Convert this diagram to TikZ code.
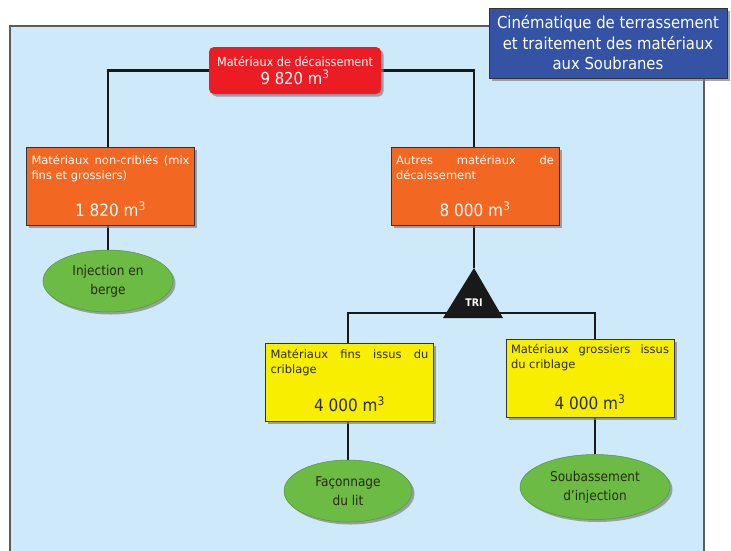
\documentclass[tikz,border=0pt]{standalone}
\usepackage{fontspec}
\setmainfont{DejaVu Sans Condensed}
\newfontfamily\widefont{DejaVu Sans}
\usetikzlibrary{shapes.geometric,shadows,backgrounds}
\definecolor{panelblue}{HTML}{CDE9FA}
\definecolor{redc}{HTML}{EC1C24}
\definecolor{orangec}{HTML}{F26722}
\definecolor{yellowc}{HTML}{F7EE00}
\definecolor{greenc}{HTML}{6BBB45}
\definecolor{titlec}{HTML}{3453A4}
\definecolor{edgec}{HTML}{333333}
\definecolor{darktext}{HTML}{2B2B10}
\tikzset{
  shad/.style={drop shadow={shadow xshift=2.5pt,shadow yshift=-2.5pt,fill=black!50,opacity=0.7}},
  conn/.style={line width=2.8pt,black!90},
  redbox/.style={shad,fill=redc,rounded corners=5pt,minimum width=172pt,minimum height=47pt,
    text=white,align=center,inner sep=2pt},
  obox/.style={shad,fill=orangec,draw=edgec,line width=0.8pt,minimum width=168pt,minimum height=78pt},
  ybox/.style={shad,fill=yellowc,draw=edgec,line width=0.8pt,minimum width=168pt,minimum height=78pt},
  smalltext/.style={text width=158pt,align=justify,inner sep=0pt,font=\widefont\fontsize{11.5}{15}\selectfont},
  bignum/.style={font=\fontsize{17}{18}\selectfont,inner sep=0pt},
  gell/.style={shad,ellipse,fill=greenc,draw=greenc!80!black,line width=0.5pt,text=darktext,align=center,
    font=\fontsize{13.5}{19}\selectfont,inner sep=0pt},
  titlebox/.style={shad,fill=titlec,draw=edgec,line width=0.8pt,minimum width=238pt,minimum height=70pt,
    text=white,align=center,font=\fontsize{16.5}{20.5}\selectfont},
}
\begin{document}
\begin{tikzpicture}[x=1pt,y=-1pt]
\useasboundingbox (0,0) rectangle (731,550);

% nodes
\node[redbox] (red) at (295,70.5) {{\fontsize{12.5}{14}\selectfont Matériaux de décaissement}\\[2pt]{\fontsize{16.5}{18}\selectfont 9 820 m\textsuperscript{3}}};

\node[obox] (o1) at (110.5,186) {};
\node[smalltext,text=white,anchor=north] (o1t) at ([yshift=-8pt]o1.north) {Matériaux non-criblés (mix\linebreak fins et grossiers)};
\node[bignum,text=white] (o1n) at ([yshift=16pt]o1.south) {1 820 m\textsuperscript{3}};

\node[obox] (o2) at (475,186) {};
\node[smalltext,text=white,anchor=north] (o2t) at ([yshift=-8pt]o2.north) {Autres matériaux de\linebreak décaissement};
\node[bignum,text=white] (o2n) at ([yshift=16pt]o2.south) {8 000 m\textsuperscript{3}};

\node[gell,minimum width=130pt,minimum height=62pt] (e1) at (108,281) {Injection en\\berge};

\coordinate (triapex) at (474,268);
\coordinate (split) at (474,313);

\node[ybox] (y1) at (349.5,382) {};
\node[smalltext,text=darktext,anchor=north] (y1t) at ([yshift=-6pt]y1.north) {Matériaux fins issus du\linebreak criblage};
\node[bignum,text=darktext] (y1n) at ([yshift=17pt]y1.south) {4 000 m\textsuperscript{3}};

\node[ybox] (y2) at (590,378.5) {};
\node[smalltext,text=darktext,anchor=north] (y2t) at ([yshift=-5pt]y2.north) {Matériaux grossiers issus\linebreak du criblage};
\node[bignum,text=darktext] (y2n) at ([yshift=16pt]y2.south) {4 000 m\textsuperscript{3}};

\node[gell,minimum width=128pt,minimum height=62pt] (e2) at (348,491) {Façonnage\\du lit};
\node[gell,minimum width=150pt,minimum height=65pt] (e3) at (595,487) {Soubassement\\d’injection};

% background: panel and connectors
\begin{scope}[on background layer]
\fill[panelblue] (10,26) rectangle (704,551);
\draw[edgec!80,line width=1.2pt] (10,551) -- (10,26) -- (704,26) -- (704,551);
\draw[conn] (red.west) -| (e1.north |- o1.north);
\draw[conn] (red.east) -| (triapex |- o2.north);
\draw[conn] (e1.north |- o1.south) -- (e1.north);
\draw[conn] (triapex |- o2.south) -- (triapex);
\draw[conn,line width=2.4pt] (e2.north |- y1.north) |- (split) -| (e3.north |- y2.north);
\draw[conn] (e2.north |- y1.south) -- (e2.north);
\draw[conn] (e3.north |- y2.south) -- (e3.north);
\end{scope}

% triangle
\fill[black!90] (triapex) -- (503,318) -- (443,318) -- cycle;
\node[text=white,font=\bfseries\fontsize{10.5}{12}\selectfont,inner sep=0pt] (tri) at (474,303) {TRI};

% title
\node[titlebox] (title) at (608,43) {Cinématique de terrassement\\et traitement des matériaux\\aux Soubranes};
\end{tikzpicture}
\end{document}
